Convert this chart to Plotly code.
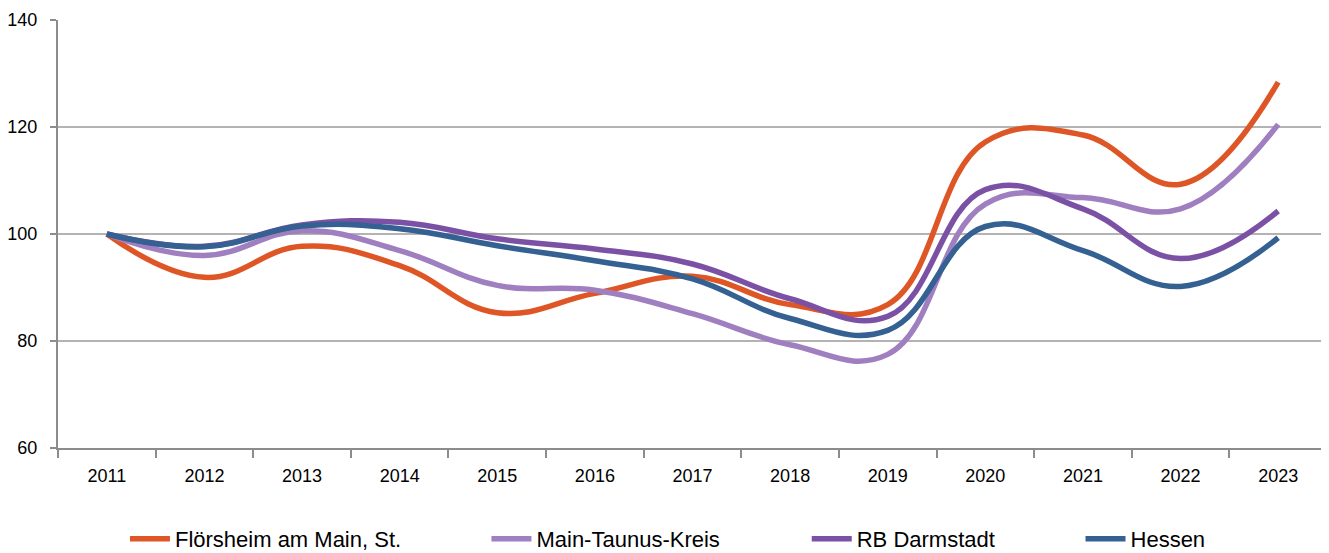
import plotly.graph_objects as go

years = ["2011", "2012", "2013", "2014", "2015", "2016", "2017", "2018", "2019", "2020", "2021", "2022", "2023"]

floersheim = [100, 91.9, 97.7, 94.1, 85.3, 88.9, 92.1, 86.8, 86.8, 117.2, 118.5, 109.3, 128.4]
main_taunus = [100, 96.0, 100.6, 96.9, 90.4, 89.5, 85.1, 79.3, 77.5, 105.6, 106.8, 104.7, 120.5]
rb_darmstadt = [100, 97.7, 101.7, 102.2, 99.1, 97.2, 94.4, 87.9, 84.6, 108.3, 104.7, 95.4, 104.3]
hessen = [100, 97.6, 101.5, 101.0, 97.8, 95.0, 91.6, 84.2, 82.0, 101.4, 96.9, 90.2, 99.3]

series_names = ["Flörsheim am Main, St.", "Main-Taunus-Kreis", "RB Darmstadt", "Hessen"]
series_values = [floersheim, main_taunus, rb_darmstadt, hessen]
colors = ["#DF5626", "#A07FC1", "#7B51A5", "#346092"]
legend_ids = ["legend", "legend2", "legend3", "legend4"]
legend_x = [0.088, 0.360, 0.601, 0.807]

FONT = "Liberation Sans, Arial, sans-serif"

fig = go.Figure()
for name, vals, col, lid in zip(series_names, series_values, colors, legend_ids):
    fig.add_trace(go.Scatter(
        x=years, y=vals, name=name, mode="lines",
        line=dict(color=col, width=5.5, shape="spline", smoothing=1.2),
        legend=lid,
    ))

layout_legends = {}
for lid, lx in zip(legend_ids, legend_x):
    layout_legends[lid] = dict(
        x=lx, y=0.04, xref="container", yref="container",
        xanchor="left", yanchor="middle",
        orientation="h", font=dict(family=FONT, size=22, color="#000000"),
        bgcolor="rgba(0,0,0,0)", itemwidth=40,
    )

# the page body adds an 8px offset; margins compensate for it
fig.update_layout(
    width=1329, height=553,
    margin=dict(l=50, r=10, t=12, b=113, autoexpand=False),
    paper_bgcolor="white", plot_bgcolor="white",
    font=dict(family=FONT, size=18, color="#000000"),
    showlegend=True,
    **layout_legends,
)

fig.update_xaxes(
    type="category", range=[-0.5, 12.5], automargin=False,
    showline=True, linecolor="#8C8C8C", linewidth=2,
    ticks="outside", tickson="boundaries", ticklen=8, tickcolor="#8C8C8C", tickwidth=2,
    showgrid=False, tickfont=dict(family=FONT, size=18, color="#000000"),
    ticklabelstandoff=10,
)
fig.update_yaxes(
    range=[60, 140], dtick=20, tick0=60, automargin=False,
    showline=True, linecolor="#8C8C8C", linewidth=2,
    ticks="outside", ticklen=6, tickcolor="#8C8C8C", tickwidth=2,
    showgrid=True, gridcolor="#B3B3B3", gridwidth=1.5,
    zeroline=False, tickfont=dict(family=FONT, size=18, color="#000000"),
    ticklabelstandoff=9,
)

fig.write_html("out.html")
